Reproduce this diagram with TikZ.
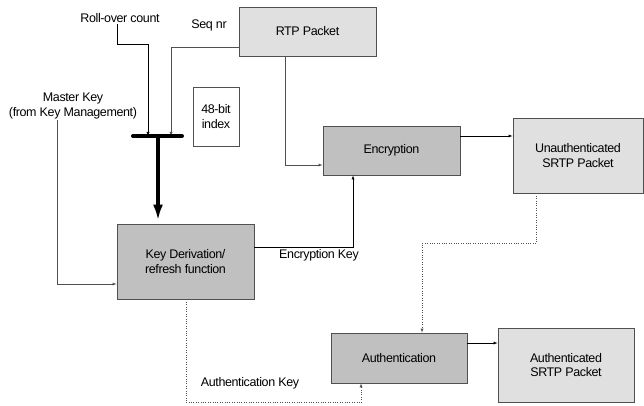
\documentclass[tikz,border=0pt]{standalone}
\usepackage{fontspec}
\setmainfont{Liberation Sans}[LetterSpace=-3]
\usepackage{xcolor}
\usepackage{tikz}
\usetikzlibrary{calc}
\usetikzlibrary{shapes.geometric, shapes.misc, arrows, arrows.meta}
\definecolor{boxlight}{HTML}{E0E0E0}
\definecolor{boxdark}{HTML}{C0C0C0}
\definecolor{linegray}{HTML}{505050}
\tikzstyle{arrow} = [->,>=latex]
\tikzstyle{dotarrow} = [->,>=latex,dotted,linegray]

\begin{document}
\begin{tikzpicture}[
				x=1pt, y=-1pt,
				every node/.style= {font = {\fontsize{12.5}{14.5}\selectfont}, align=center},
				pkt/.style= {draw=linegray, thick, fill=boxlight, inner sep=0pt},
				proc/.style= {draw=linegray, thick, fill=boxdark, inner sep=0pt},
				lbl/.style= {inner sep=1pt}
			]
			\useasboundingbox (0,0) rectangle (644,406);
			
			\node (rtp) [pkt, minimum width=137pt, minimum height=49pt] at (307.5,31.5) {RTP Packet};
			\node (enc) [proc, minimum width=137pt, minimum height=49pt] at (391.5,150.5) {Encryption};
			\node (unauth) [pkt, minimum width=130pt, minimum height=75pt] at (578,155.5) {Unauthenticated\\SRTP Packet};
			\node (kd) [proc, minimum width=137pt, minimum height=75pt] at (185.5,261.5) {Key Derivation/\\refresh function};
			\node (auth) [proc, minimum width=136pt, minimum height=50pt] at (399,358) {Authentication};
			\node (authsrtp) [pkt, minimum width=136pt, minimum height=74pt] at (566,365) {Authenticated\\SRTP Packet};
			\node (idx) [draw=linegray, minimum width=46pt, minimum height=59pt, inner sep=0pt] at (216,116.5) {48-bit\\index};
			
			\node (roll) [lbl] at (120,18) {Roll-over count};
			\node (seq) [lbl] at (209,25) {Seq nr};
			\node (mk) [lbl] at (73,106) {Master Key\\(from Key Management)};
			\node (enckey) [lbl] at (319,255) {Encryption Key};
			\node (authkey) [lbl] at (250,383) {Authentication Key};
			
			\coordinate (barL) at (133,136);
			\coordinate (barR) at (182,136);
			\coordinate (barA) at (148,136);
			\coordinate (barB) at (171,136);
			\coordinate (barM) at (158,136);
			
			\draw [arrow] ([xshift=-3pt]roll.south) -- ++(0,20) -| (barA);
			\draw [arrow, linegray] ([yshift=-15.5pt]rtp.west) -| (barB);
			\draw [line width=4pt, line cap=round] (barL) -- (barR);
			\draw [line width=3.5pt, -{Latex[length=16pt, width=10pt]}] (barM) -- ([yshift=3pt]barM |- kd.north);
			\draw [arrow, linegray] ([xshift=-16pt]mk.south) |- ([yshift=-22.5pt]kd.west);
			
			\draw [arrow, linegray] ([xshift=-22.5pt]rtp.south) |- ([yshift=-14.5pt]enc.west);
			\draw [arrow] ([yshift=14.5pt]enc.east) -- ([yshift=14.5pt]enc.east -| unauth.west);
			\draw [arrow] ([yshift=14.5pt]kd.east) -| ([xshift=-38.5pt]enc.south);
			
			\draw [dotarrow] ([xshift=-42pt]unauth.south) -- ++(0,50) -| ([xshift=23pt]auth.north);
			\draw [dotarrow] ([xshift=0.5pt]kd.south) -- ++(0,103) -| ([xshift=-38pt]auth.south);
			\draw [arrow] ([yshift=15pt]auth.east) -- ([yshift=15pt]auth.east -| authsrtp.west);
		\end{tikzpicture}
\end{document}
